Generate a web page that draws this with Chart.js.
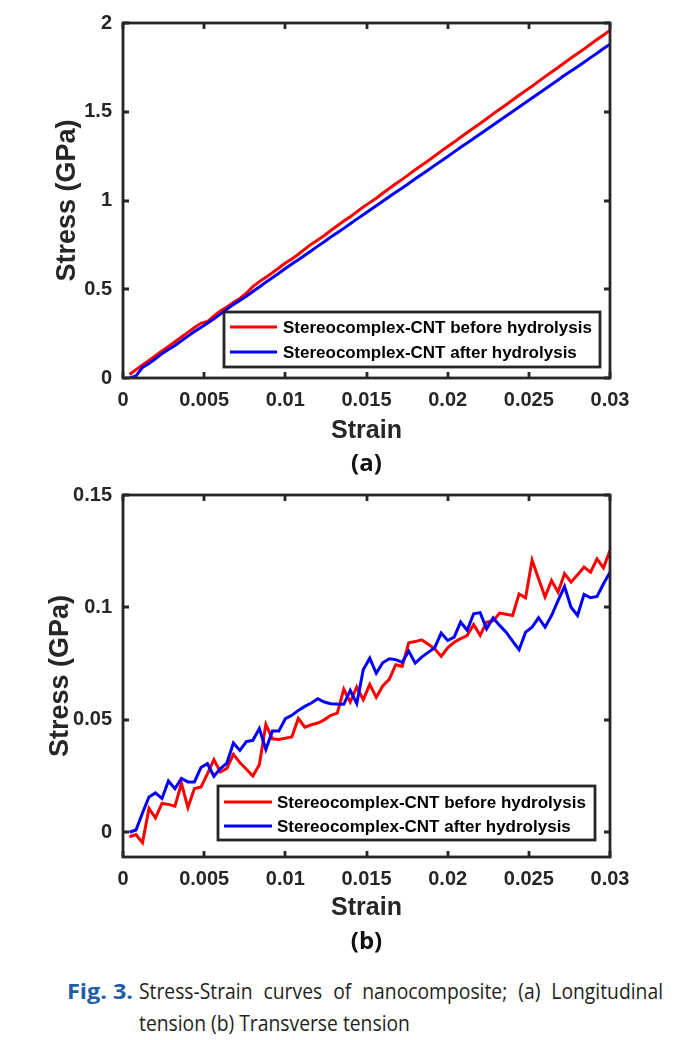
<!DOCTYPE html>
<html>
<head>
<meta charset="utf-8">
<script src="https://cdn.jsdelivr.net/npm/chart.js@4.4.0/dist/chart.umd.min.js"></script>
<style>
html,body{margin:0;padding:0;background:#fff;}
body{width:681px;height:1040px;position:relative;overflow:hidden;}
canvas{position:absolute;left:0;}
#c1{top:0;}
#c2{top:470px;}
.sub{position:absolute;left:0;width:733px;text-align:center;font-family:"Open Sans";font-weight:700;font-size:24px;line-height:24px;color:#111;}
.cap{position:absolute;font-family:"Open Sans";font-size:22px;line-height:22px;color:#231f20;white-space:nowrap;transform-origin:0 0;}
</style>
</head>
<body>
<canvas id="c1" width="681" height="450"></canvas>
<canvas id="c2" width="681" height="460"></canvas>
<div class="sub" style="top:450px;">(a)</div>
<div class="sub" style="top:928px;">(b)</div>
<div id="fig" class="cap" style="left:67px;top:979px;font-weight:700;color:#1f5ea6;">Fig. 3.</div>
<div id="l1" class="cap" style="left:139px;top:979px;">Stress-Strain curves of nanocomposite; (a) Longitudinal</div>
<div id="l2" class="cap" style="left:139px;top:1011px;">tension (b) Transverse tension</div>
<script>
// ---------- data ----------
const strain = [0.0004,0.0008,0.0012,0.0016,0.002,0.0024,0.0028,0.0032,0.0036,0.004,
0.0044,0.0048,0.0052,0.0056,0.006,0.0064,0.0068,0.0072,0.0076,0.008,
0.0084,0.0088,0.0092,0.0096,0.01,0.0104,0.0108,0.0112,0.0116,0.012,
0.0124,0.0128,0.0132,0.0136,0.014,0.0144,0.0148,0.0152,0.0156,0.016,
0.0164,0.0168,0.0172,0.0176,0.018,0.0184,0.0188,0.0192,0.0196,0.02,
0.0204,0.0208,0.0212,0.0216,0.022,0.0224,0.0228,0.0232,0.0236,0.024,
0.0244,0.0248,0.0252,0.0256,0.026,0.0264,0.0268,0.0272,0.0276,0.028,
0.0284,0.0288,0.0292,0.0296,0.03];

// (a) longitudinal tension, stress in GPa
const longBefore = [0.020,0.047,0.073,0.099,0.125,0.152,0.178,0.204,0.231,0.257,
0.284,0.308,0.318,0.350,0.377,0.400,0.425,0.448,0.478,0.515,
0.543,0.567,0.593,0.620,0.648,0.671,0.697,0.726,0.754,0.778,
0.803,0.831,0.858,0.884,0.909,0.936,0.963,0.988,1.013,1.041,
1.068,1.094,1.119,1.146,1.173,1.199,1.224,1.251,1.278,1.304,
1.329,1.356,1.383,1.409,1.434,1.461,1.488,1.514,1.539,1.566,
1.593,1.619,1.644,1.671,1.698,1.724,1.749,1.776,1.803,1.828,
1.853,1.880,1.907,1.932,1.960];
const longAfter = [0.000,0.012,0.060,0.082,0.108,0.137,0.160,0.183,0.210,0.236,
0.262,0.285,0.308,0.333,0.360,0.388,0.414,0.437,0.460,0.487,
0.513,0.540,0.565,0.590,0.617,0.642,0.666,0.692,0.717,0.743,
0.768,0.794,0.818,0.843,0.869,0.895,0.920,0.945,0.970,0.996,
1.021,1.047,1.071,1.096,1.122,1.147,1.172,1.198,1.223,1.248,
1.274,1.300,1.324,1.349,1.375,1.400,1.425,1.451,1.476,1.501,
1.527,1.552,1.577,1.603,1.628,1.653,1.679,1.705,1.729,1.754,
1.779,1.805,1.830,1.856,1.880];

// (b) transverse tension, stress in GPa
const transBefore = [-0.002,-0.001,-0.0047,0.0106,0.0064,0.0128,0.0124,0.0116,0.0217,0.011,
0.0195,0.0201,0.026,0.0323,0.0268,0.0284,0.0347,0.031,0.028,0.025,
0.030,0.048,0.0416,0.0413,0.0418,0.0424,0.0506,0.0467,0.0478,0.0486,
0.050,0.052,0.053,0.0636,0.0579,0.0646,0.059,0.0658,0.060,0.0651,
0.068,0.0745,0.0738,0.0843,0.0848,0.0856,0.0836,0.0816,0.0782,0.082,
0.0845,0.0861,0.0875,0.0924,0.0876,0.0935,0.094,0.0975,0.097,0.0964,
0.106,0.1043,0.121,0.1127,0.1046,0.112,0.1068,0.115,0.1112,0.1145,
0.1179,0.1157,0.1216,0.1176,0.1253];
const transAfter = [0.0,0.001,0.0086,0.0157,0.0175,0.015,0.0228,0.0194,0.0239,0.0224,
0.0224,0.0288,0.0305,0.0249,0.0283,0.0308,0.0397,0.0364,0.0403,0.0409,
0.0461,0.0368,0.045,0.045,0.0505,0.052,0.0542,0.056,0.0575,0.0594,
0.0579,0.0572,0.057,0.0569,0.0631,0.0572,0.0723,0.0774,0.0707,0.0754,
0.0772,0.0768,0.0756,0.0806,0.0752,0.0779,0.080,0.0821,0.0886,0.0853,
0.0868,0.0935,0.0898,0.0972,0.0977,0.0905,0.0954,0.092,0.089,0.085,
0.0812,0.089,0.0912,0.0954,0.0912,0.0964,0.103,0.1093,0.1001,0.0964,
0.1058,0.1043,0.1049,0.1105,0.1157];

const seriesLabels = ['Stereocomplex-CNT before hydrolysis','Stereocomplex-CNT after hydrolysis'];
const xTickValues = [0,0.005,0.01,0.015,0.02,0.025,0.03];
const xTickLabels = ['0','0.005','0.01','0.015','0.02','0.025','0.03'];
const yTickValuesA = [0,0.5,1,1.5,2];
const yTickLabelsA = ['0','0.5','1','1.5','2'];
const yTickValuesB = [0,0.05,0.1,0.15];
const yTickLabelsB = ['0','0.05','0.1','0.15'];

// ---------- drawing ----------
const AX = '#262626';
const RED = '#ff0000', BLUE = '#0000ff';
Chart.defaults.font.family = '"Liberation Sans", Arial, sans-serif';

const framePlugin = {
  id: 'frame',
  afterDatasetsDraw(chart, args, o) {
    const {ctx, chartArea: a, scales: {x, y}} = chart;
    ctx.save();
    ctx.strokeStyle = AX; ctx.lineWidth = o.width;
    ctx.beginPath();
    x.ticks.forEach(t => {
      const p = Math.round(x.getPixelForValue(t.value));
      ctx.moveTo(p, a.bottom); ctx.lineTo(p, a.bottom - o.tick);
      ctx.moveTo(p, a.top); ctx.lineTo(p, a.top + o.tick);
    });
    y.ticks.forEach(t => {
      const p = Math.round(y.getPixelForValue(t.value));
      ctx.moveTo(a.left, p); ctx.lineTo(a.left + o.tick, p);
      ctx.moveTo(a.right, p); ctx.lineTo(a.right - o.tick, p);
    });
    ctx.stroke();
    ctx.strokeRect(a.left, a.top, a.right - a.left, a.bottom - a.top);
    // legend box
    const L = o.legend;
    ctx.fillStyle = '#fff';
    ctx.fillRect(L.x, L.y, L.w, L.h);
    ctx.lineWidth = L.border; ctx.strokeStyle = AX;
    ctx.strokeRect(L.x, L.y, L.w, L.h);
    ctx.font = 'bold 17px "Liberation Sans", Arial, sans-serif';
    ctx.textBaseline = 'middle'; ctx.textAlign = 'left';
    L.order.forEach((di, r) => {
      const ds = chart.data.datasets[di];
      const yy = L.rows[r];
      ctx.strokeStyle = ds.borderColor; ctx.lineWidth = 3;
      ctx.beginPath(); ctx.moveTo(L.lx1, yy); ctx.lineTo(L.lx2, yy); ctx.stroke();
      ctx.fillStyle = '#000';
      ctx.fillText(ds.label, L.tx, yy + 1);
    });
    ctx.restore();
  }
};

function pts(vals) { return strain.map((s, i) => ({x: s, y: vals[i]})); }

function makeChart(id, before, after, yMin, yMax, yVals, yLabs, cfg) {
  return new Chart(document.getElementById(id), {
    type: 'line',
    data: {
      datasets: [
        {label: seriesLabels[0], data: pts(before), borderColor: RED, borderWidth: 3, pointRadius: 0, tension: 0, order: 1},
        {label: seriesLabels[1], data: pts(after), borderColor: BLUE, borderWidth: 3, pointRadius: 0, tension: 0, order: 0}
      ]
    },
    options: {
      responsive: false, animation: false, devicePixelRatio: 1,
      layout: {padding: {left: 0, right: 71, top: cfg.padTop, bottom: 0}},
      plugins: {legend: {display: false}, tooltip: {enabled: false}, frame: cfg.frame},
      scales: {
        x: {
          type: 'linear', min: 0, max: 0.03,
          afterBuildTicks: s => { s.ticks = xTickValues.map(v => ({value: v})); },
          afterFit: s => { s.height = cfg.xHeight; },
          grid: {display: false, drawTicks: false}, border: {display: false},
          ticks: {autoSkip: false, maxRotation: 0, padding: cfg.xTickPad, color: AX,
            font: {size: 20, weight: 'bold'},
            callback: v => { const i = xTickValues.findIndex(t => Math.abs(t - v) < 1e-9); return i < 0 ? '' : xTickLabels[i]; }},
          title: {display: true, text: 'Strain', color: AX, font: {size: 25, weight: 'bold'}, padding: {top: 0, bottom: cfg.xTitlePad}}
        },
        y: {
          type: 'linear', min: yMin, max: yMax,
          afterBuildTicks: s => { s.ticks = yVals.map(v => ({value: v})); },
          afterFit: s => { s.width = 123; },
          grid: {display: false, drawTicks: false}, border: {display: false},
          ticks: {autoSkip: false, padding: 11, color: AX, font: {size: 20, weight: 'bold'},
            callback: v => { const i = yVals.findIndex(t => Math.abs(t - v) < 1e-9); return i < 0 ? '' : yLabs[i]; }},
          title: {display: true, text: 'Stress (GPa)', color: AX, font: {size: 27, weight: 'bold'}, padding: {top: cfg.yTitlePad, bottom: 0}}
        }
      }
    },
    plugins: [framePlugin]
  });
}

makeChart('c1', longBefore, longAfter, 0, 2, yTickValuesA, yTickLabelsA, {
  padTop: 18, xHeight: 72, xTickPad: 10, xTitlePad: 4, yTitlePad: 51,
  frame: {width: 2.8, tick: 6, legend: {x: 224, y: 312, w: 376, h: 55, border: 2.8, order: [0, 1], rows: [327, 352], lx1: 230, lx2: 277, tx: 283}}
});
makeChart('c2', transBefore, transAfter, -0.011, 0.15, yTickValuesB, yTickLabelsB, {
  padTop: 25, xHeight: 73, xTickPad: 10, xTitlePad: 7, yTitlePad: 44,
  frame: {width: 2.8, tick: 6, legend: {x: 218, y: 316, w: 377, h: 54, border: 2.8, order: [0, 1], rows: [332, 356], lx1: 224, lx2: 272, tx: 277}}
});

// ---------- caption fitting (condensed face, justified first line) ----------
function fitCaption() {
  const l2 = document.getElementById('l2');
  const l1 = document.getElementById('l1');
  const fig = document.getElementById('fig');
  l1.style.transform = 'none'; l2.style.transform = 'none'; fig.style.transform = 'none';
  l1.style.wordSpacing = '0px';
  const nat1 = l1.getBoundingClientRect().width;
  const gaps = (l1.textContent.match(/ /g) || []).length;
  const s = (524 - gaps * 6) / nat1;
  l2.style.transform = 'scaleX(' + s + ')';
  const extra = Math.max(0, (524 / s - nat1) / gaps);
  l1.style.wordSpacing = extra + 'px';
  l1.style.transform = 'scaleX(' + s + ')';
  const sf = 66 / fig.getBoundingClientRect().width;
  fig.style.transform = 'scaleX(' + sf + ')';
}
fitCaption();
if (document.fonts && document.fonts.ready) { document.fonts.ready.then(fitCaption); }
</script>
</body>
</html>
